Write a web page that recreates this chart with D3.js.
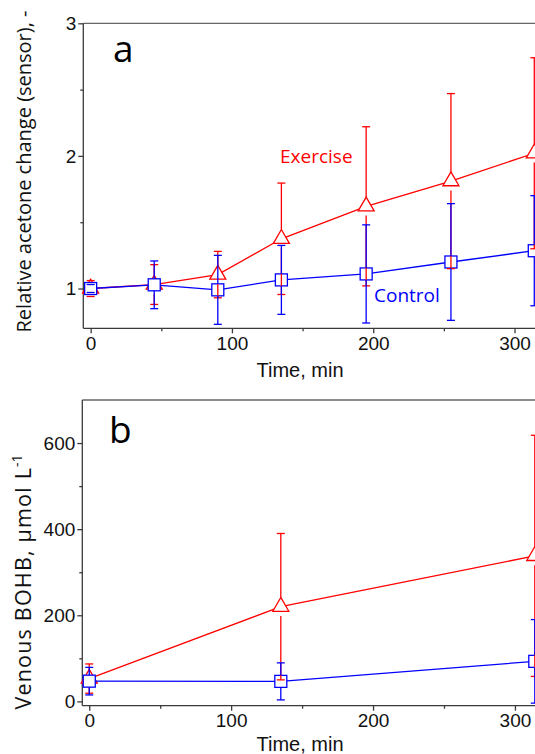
<!DOCTYPE html>
<html><head><meta charset="utf-8">
<script src="https://cdn.jsdelivr.net/npm/d3@7"></script>
<style>html,body{margin:0;padding:0;background:#fff;overflow:hidden}</style>
</head><body>
<svg id="chart" width="535" height="754"></svg>
<script>
// ---------- data ----------
const timesA = [0, 45, 90, 135, 195, 255, 314];
const exerciseA = [1.00, 1.03, 1.105, 1.375, 1.62, 1.81, 2.02];
const exerciseAErr = [0.06, 0.15, 0.175, 0.42, 0.60, 0.66, 0.72];
const controlA = [1.00, 1.028, 0.99, 1.065, 1.11, 1.20, 1.285];
const controlAErr = [0.03, 0.18, 0.26, 0.26, 0.37, 0.44, 0.415];

const timesB = [0, 135, 314];
const exerciseB = [53, 220, 338];
const exerciseBErr = [34, 170, 280];
const controlB = [47, 46.5, 93];
const controlBErr = [32, 43, 97];

const xTicks = [0, 100, 200, 300];
const xMinorTicks = [50, 150, 250];
const yTicksA = [1, 2, 3];
const yMinorTicksA = [1.5, 2.5];
const yTicksB = [0, 200, 400, 600];
const yMinorTicksB = [100, 300, 500];

const RED = "#ff0000", BLUE = "#0000ff", AXIS = "#3a3a3a";
const svg = d3.select("#chart");

function drawPanel(cfg) {
  const g = svg.append("g");
  const x = d3.scaleLinear().domain(cfg.xDomain).range(cfg.xRange);
  const y = d3.scaleLinear().domain(cfg.yDomain).range(cfg.yRange);
  const bottom = cfg.yRange[0], top = cfg.yRange[1], left = cfg.xRange[0], right = cfg.xRange[1];

  // x axis major
  const xa = g.append("g").attr("transform", `translate(0,${bottom})`)
    .call(d3.axisBottom(x).tickValues(xTicks).tickSize(5).tickSizeOuter(0).tickPadding(3).tickFormat(d3.format("d")));
  xa.select(".domain").remove();
  xa.selectAll("line").attr("stroke", AXIS).attr("stroke-width", 1.3);
  xa.selectAll("text").attr("font-family", "'Liberation Sans', Arial, sans-serif").attr("font-size", 19).attr("fill", "#111");
  const xm = g.append("g").attr("transform", `translate(0,${bottom})`)
    .call(d3.axisBottom(x).tickValues(xMinorTicks).tickSize(3).tickFormat(""));
  xm.select(".domain").remove();
  xm.selectAll("line").attr("stroke", AXIS).attr("stroke-width", 1.3);

  // y axis
  const ya = g.append("g").attr("transform", `translate(${left},0)`)
    .call(d3.axisLeft(y).tickValues(cfg.yTicks).tickSize(5).tickSizeOuter(0).tickPadding(2).tickFormat(d3.format("d")));
  ya.select(".domain").remove();
  ya.selectAll("line").attr("stroke", AXIS).attr("stroke-width", 1.3);
  ya.selectAll("text").attr("font-family", "'Liberation Sans', Arial, sans-serif").attr("font-size", 19).attr("fill", "#111");
  const ym = g.append("g").attr("transform", `translate(${left},0)`)
    .call(d3.axisLeft(y).tickValues(cfg.yMinor).tickSize(3).tickFormat(""));
  ym.select(".domain").remove();
  ym.selectAll("line").attr("stroke", AXIS).attr("stroke-width", 1.3);

  // frame lines
  g.append("line").attr("x1", left).attr("x2", right).attr("y1", bottom).attr("y2", bottom).attr("stroke", AXIS).attr("stroke-width", 1.3);
  g.append("line").attr("x1", left).attr("x2", right).attr("y1", top).attr("y2", top).attr("stroke", "#666").attr("stroke-width", 1.3);
  g.append("line").attr("x1", left).attr("x2", left).attr("y1", top).attr("y2", bottom).attr("stroke", AXIS).attr("stroke-width", 1.3);

  const series = [
    {t: cfg.times, v: cfg.ex, e: cfg.exErr, color: RED, type: "tri", r: 9.3},
    {t: cfg.times, v: cfg.ct, e: cfg.ctErr, color: BLUE, type: "sq", r: 6}
  ];
  const plot = g.append("g");
  // lines and markers
  series.forEach(s => {
    const pts = s.t.map((t, i) => [x(t), y(s.v[i])]);
    plot.append("path").attr("d", d3.line()(pts)).attr("fill", "none").attr("stroke", s.color).attr("stroke-width", 1.3);
    pts.forEach(p => {
      if (s.type === "tri") {
        plot.append("path").attr("d", d3.symbol().type(d3.symbolTriangle).size(111)())
          .attr("transform", `translate(${p[0]},${p[1]})`)
          .attr("fill", "#fff").attr("stroke", s.color).attr("stroke-width", 1.3);
      } else {
        plot.append("rect").attr("x", p[0] - 6).attr("y", p[1] - 6).attr("width", 12).attr("height", 12)
          .attr("fill", "#fff").attr("stroke", s.color).attr("stroke-width", 1.3);
      }
    });
  });
  // error bars
  series.forEach(s => {
    s.t.forEach((t, i) => {
      const cx = x(t), cy = y(s.v[i]), yu = y(s.v[i] + s.e[i]), yl = y(s.v[i] - s.e[i]);
      if (yu < cy - s.r) plot.append("line").attr("x1", cx).attr("x2", cx).attr("y1", cy - s.r).attr("y2", yu).attr("stroke", s.color).attr("stroke-width", 1.3);
      if (yl > cy + s.r) plot.append("line").attr("x1", cx).attr("x2", cx).attr("y1", cy + s.r).attr("y2", yl).attr("stroke", s.color).attr("stroke-width", 1.3);
      [yu, yl].forEach(yy => plot.append("line").attr("x1", cx - 4).attr("x2", cx + 4).attr("y1", yy).attr("y2", yy).attr("stroke", s.color).attr("stroke-width", 1.3));
    });
  });

  // x title
  g.append("text").attr("x", cfg.xTitlePos[0]).attr("y", cfg.xTitlePos[1]).attr("text-anchor", "middle")
    .attr("font-family", "'Liberation Sans', Arial, sans-serif").attr("font-size", 20).attr("fill", "#111").text("Time, min");
  // panel letter
  g.append("text").attr("x", cfg.letterPos[0]).attr("y", cfg.letterPos[1])
    .attr("font-family", "'Open Sans', sans-serif").attr("font-size", 37).attr("fill", "#000").text(cfg.letter);
  return {g, x, y};
}

const A = drawPanel({
  xDomain: [-5.2, 330], xRange: [83.3, 556.9],
  yDomain: [0.7, 3], yRange: [328.3, 23.3],
  yTicks: yTicksA, yMinor: yMinorTicksA,
  times: timesA, ex: exerciseA, exErr: exerciseAErr, ct: controlA, ctErr: controlAErr,
  xTitlePos: [300, 376.7], letter: "a", letterPos: [113, 61.7]
});
const B = drawPanel({
  xDomain: [-4.9, 330], xRange: [82.3, 557.5],
  yDomain: [-10, 700], yRange: [705.7, 400],
  yTicks: yTicksB, yMinor: yMinorTicksB,
  times: timesB, ex: exerciseB, exErr: exerciseBErr, ct: controlB, ctErr: controlBErr,
  xTitlePos: [300, 751], letter: "b", letterPos: [109, 443]
});

// series labels
A.g.append("text").attr("x", 280).attr("y", 163.3).attr("font-family", "'Open Sans', sans-serif")
  .attr("font-size", 19).attr("fill", RED).text("Exercise");
A.g.append("text").attr("x", 374).attr("y", 301.7).attr("font-family", "'Open Sans', sans-serif")
  .attr("font-size", 19).attr("fill", BLUE).text("Control");

// y titles
svg.append("text").attr("transform", "translate(30.5,171.5) rotate(-90)").attr("text-anchor", "middle")
  .attr("font-family", "'Open Sans', sans-serif").attr("font-size", 20).attr("fill", "#111")
  .text("Relative acetone change (sensor), -");
const yt = svg.append("text").attr("transform", "translate(31,582) rotate(-90)").attr("text-anchor", "middle")
  .attr("font-family", "'Open Sans', sans-serif").attr("font-size", 21.5).attr("letter-spacing", 1.2).attr("fill", "#111");
yt.append("tspan").text("Venous BOHB, µmol L");
yt.append("tspan").attr("dy", -9).attr("font-size", 14).attr("letter-spacing", 0).text("-1");
</script>
</body></html>
